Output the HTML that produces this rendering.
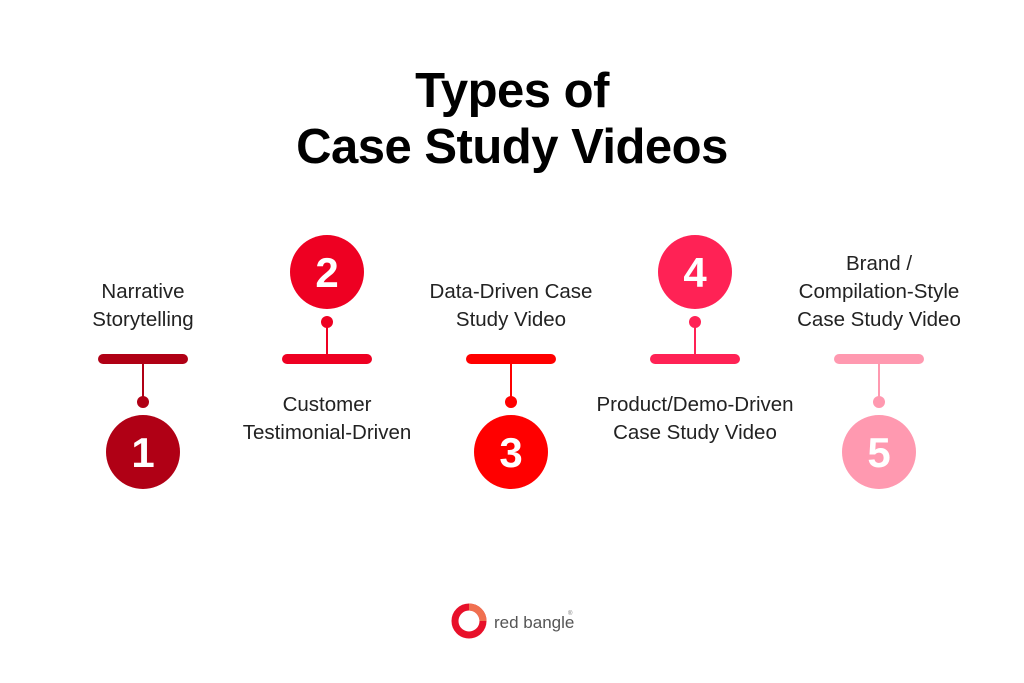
<!DOCTYPE html>
<html><head><style>
body{margin:0;width:1024px;height:683px;background:#fff;overflow:hidden;font-family:"Liberation Sans",sans-serif}
.t{position:absolute;left:0;width:1024px;text-align:center;font-weight:bold;font-size:49px;color:#000;line-height:56px;letter-spacing:-0.5px}
.l{position:absolute;width:240px;text-align:center;font-size:20.5px;line-height:28px;color:#222}
</style></head><body>
<div class="t" style="top:63px">Types of<br>Case Study Videos</div>
<svg width="1024" height="683" style="position:absolute;left:0;top:0">
<g font-family="Liberation Sans" font-weight="bold" font-size="42" fill="#fff" text-anchor="middle">
<g fill="#b00015" stroke="#b00015"><rect x="98" y="354" width="90" height="10" rx="5" stroke="none"/><line x1="143" y1="359" x2="143" y2="402" stroke-width="2"/><circle cx="143" cy="402" r="6" stroke="none"/><circle cx="143" cy="452" r="37" stroke="none"/></g>
<text x="143" y="467">1</text>
<g fill="#ee0022" stroke="#ee0022"><rect x="282" y="354" width="90" height="10" rx="5" stroke="none"/><line x1="327" y1="359" x2="327" y2="322" stroke-width="2"/><circle cx="327" cy="322" r="6" stroke="none"/><circle cx="327" cy="272" r="37" stroke="none"/></g>
<text x="327" y="287">2</text>
<g fill="#ff0000" stroke="#ff0000"><rect x="466" y="354" width="90" height="10" rx="5" stroke="none"/><line x1="511" y1="359" x2="511" y2="402" stroke-width="2"/><circle cx="511" cy="402" r="6" stroke="none"/><circle cx="511" cy="452" r="37" stroke="none"/></g>
<text x="511" y="467">3</text>
<g fill="#ff2255" stroke="#ff2255"><rect x="650" y="354" width="90" height="10" rx="5" stroke="none"/><line x1="695" y1="359" x2="695" y2="322" stroke-width="2"/><circle cx="695" cy="322" r="6" stroke="none"/><circle cx="695" cy="272" r="37" stroke="none"/></g>
<text x="695" y="287">4</text>
<g fill="#ff99b0" stroke="#ff99b0"><rect x="834" y="354" width="90" height="10" rx="5" stroke="none"/><line x1="879" y1="359" x2="879" y2="402" stroke-width="2"/><circle cx="879" cy="402" r="6" stroke="none"/><circle cx="879" cy="452" r="37" stroke="none"/></g>
<text x="879" y="467">5</text>
</g>
<circle cx="469" cy="621" r="14" fill="none" stroke="#e8102a" stroke-width="7"/>
<path d="M469 607 A14 14 0 0 1 483 621" fill="none" stroke="#f07050" stroke-width="7"/>
<text x="494" y="628" font-family="Liberation Sans" font-size="17" fill="#555">red bangle</text>
<text x="568" y="615" font-family="Liberation Sans" font-size="6" fill="#777">®</text>
</svg>
<div class="l" style="left:23px;top:278px">Narrative<br>Storytelling</div>
<div class="l" style="left:207px;top:391px">Customer<br>Testimonial-Driven</div>
<div class="l" style="left:391px;top:278px">Data-Driven Case<br>Study Video</div>
<div class="l" style="left:575px;top:391px">Product/Demo-Driven<br>Case Study Video</div>
<div class="l" style="left:759px;top:250px">Brand /<br>Compilation-Style<br>Case Study Video</div>
</body></html>
